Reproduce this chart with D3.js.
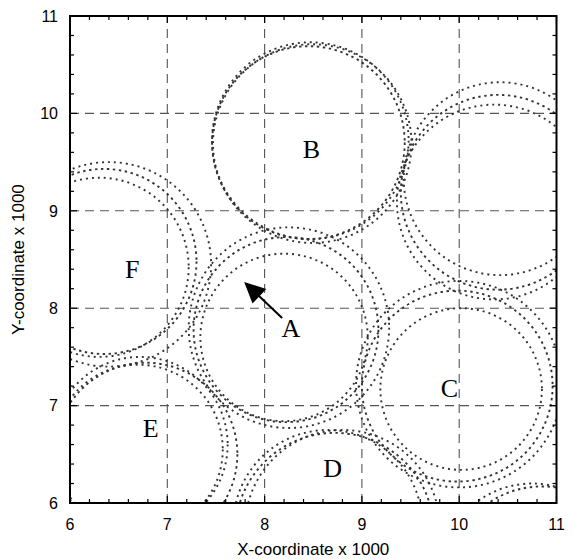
<!DOCTYPE html>
<html><head><meta charset="utf-8">
<script src="https://cdn.jsdelivr.net/npm/d3@7"></script>
<style>body{margin:0;background:#fff}</style>
</head><body><svg id="c" width="574" height="559"></svg>
<script>
// ---- data ----
const xTicks = [6, 7, 8, 9, 10, 11];
const yTicks = [6, 7, 8, 9, 10, 11];
const xTickLabels = ["6", "7", "8", "9", "10", "11"];
const yTickLabels = ["6", "7", "8", "9", "10", "11"];
const gridX = [7, 8, 9, 10];
const gridY = [7, 8, 9, 10];

// circle groups: [centerX, centerY, radius] (x1000 units)
const circlesA = [[8.20, 7.70, 0.86], [8.22, 7.78, 0.95], [8.25, 7.80, 1.03]];
const circlesB = [[8.47, 9.72, 1.01], [8.45, 9.70, 0.99], [8.49, 9.69, 1.02]];
const circlesC = [[10.02, 7.17, 0.83], [9.98, 7.20, 0.98], [10.00, 7.22, 1.06]];
const circlesD = [[8.80, 5.75, 1.00], [8.72, 5.70, 1.02], [8.65, 5.78, 0.97]];
const circlesE = [[6.70, 6.55, 0.87], [6.78, 6.50, 0.94], [6.72, 6.60, 0.90]];
const circlesF = [[6.40, 8.45, 1.05], [6.35, 8.48, 0.95], [6.30, 8.42, 0.92]];
const circlesNE = [[10.42, 9.33, 0.99], [10.40, 9.19, 1.00], [10.36, 9.09, 1.00]];
const circlesSE = [[10.75, 5.25, 0.95], [10.85, 5.20, 0.97]];

const labels = ["A", "B", "C", "D", "E", "F"];
const labelX = [8.27, 8.48, 9.90, 8.70, 6.83, 6.64];
const labelY = [7.70, 9.54, 7.09, 6.27, 6.68, 8.31];
const arrowFrom = [8.18, 7.90];
const arrowTo = [7.79, 8.27];

const xTitle = "X-coordinate x 1000";
const yTitle = "Y-coordinate x 1000";

// ---- drawing ----
const svg = d3.select("#c");
const x = d3.scaleLinear().domain([6, 11]).range([70, 556.5]);
const y = d3.scaleLinear().domain([6, 11]).range([503, 16]);
const X0 = x.range()[0], X1 = x.range()[1], Y0 = y.range()[0], Y1 = y.range()[1];

svg.append("defs").append("clipPath").attr("id", "clip")
  .append("rect").attr("x", X0).attr("y", Y1).attr("width", X1 - X0).attr("height", Y0 - Y1);

// grid
const grid = svg.append("g").attr("stroke", "#555").attr("stroke-width", 1.1).attr("stroke-dasharray", "9 6");
grid.selectAll("line.gx").data(gridX).join("line").attr("class", "gx")
  .attr("x1", d => x(d)).attr("x2", d => x(d)).attr("y1", Y0).attr("y2", Y1);
grid.selectAll("line.gy").data(gridY).join("line").attr("class", "gy")
  .attr("y1", d => y(d)).attr("y2", d => y(d)).attr("x1", X0).attr("x2", X1);

// circles
const allGroups = [circlesA, circlesB, circlesC, circlesD, circlesE, circlesF, circlesNE, circlesSE];
const cg = svg.append("g").attr("clip-path", "url(#clip)");
allGroups.forEach((grp, gi) => {
  cg.append("g").selectAll("ellipse").data(grp).join("ellipse")
    .attr("cx", d => x(d[0])).attr("cy", d => y(d[1]))
    .attr("rx", d => x(d[0] + d[2]) - x(d[0]))
    .attr("ry", d => y(d[1]) - y(d[1] + d[2]))
    .attr("fill", "none").attr("stroke", "#333")
    .attr("stroke-width", 1.9).attr("stroke-dasharray", (d, i) => i % 2 ? "2.4 3.6" : "2 4");
});

// minor ticks (inward) on all 4 sides
const minor = x.ticks(25);
const tk = svg.append("g").attr("stroke", "#000").attr("stroke-width", 1.2);
tk.selectAll("line.b").data(minor).join("line").attr("class", "b")
  .attr("x1", d => x(d)).attr("x2", d => x(d)).attr("y1", Y0).attr("y2", d => Y0 - (xTicks.includes(+d.toFixed(2)) ? 7 : 4));
tk.selectAll("line.t").data(minor).join("line").attr("class", "t")
  .attr("x1", d => x(d)).attr("x2", d => x(d)).attr("y1", Y1).attr("y2", d => Y1 + (xTicks.includes(+d.toFixed(2)) ? 7 : 4));
const minorY = y.ticks(25);
tk.selectAll("line.l").data(minorY).join("line").attr("class", "l")
  .attr("y1", d => y(d)).attr("y2", d => y(d)).attr("x1", X0).attr("x2", d => X0 + (yTicks.includes(+d.toFixed(2)) ? 7 : 4));
tk.selectAll("line.r").data(minorY).join("line").attr("class", "r")
  .attr("y1", d => y(d)).attr("y2", d => y(d)).attr("x1", X1).attr("x2", d => X1 - (yTicks.includes(+d.toFixed(2)) ? 7 : 4));

// frame
svg.append("rect").attr("x", X0).attr("y", Y1).attr("width", X1 - X0).attr("height", Y0 - Y1)
  .attr("fill", "none").attr("stroke", "#000").attr("stroke-width", 2);

// tick labels
const font = "Liberation Sans, Arial, sans-serif";
svg.append("g").selectAll("text").data(xTicks).join("text")
  .attr("x", d => x(d)).attr("y", 530).attr("text-anchor", "middle")
  .attr("font-family", font).attr("font-size", 16).text((d, i) => xTickLabels[i]);
svg.append("g").selectAll("text").data(yTicks).join("text")
  .attr("x", 58).attr("y", d => y(d)).attr("dy", "0.36em").attr("text-anchor", "end")
  .attr("font-family", font).attr("font-size", 16).text((d, i) => yTickLabels[i]);

// axis titles
svg.append("text").attr("x", (X0 + X1) / 2).attr("y", 555).attr("text-anchor", "middle")
  .attr("font-family", font).attr("font-size", 17).text(xTitle);
svg.append("text").attr("transform", `translate(24,${(Y0 + Y1) / 2}) rotate(-90)`).attr("text-anchor", "middle")
  .attr("font-family", font).attr("font-size", 17).text(yTitle);

// letter labels
svg.append("g").selectAll("text").data(labels).join("text")
  .attr("x", (d, i) => x(labelX[i])).attr("y", (d, i) => y(labelY[i]))
  .attr("text-anchor", "middle").attr("font-family", "Liberation Serif, Times New Roman, serif")
  .attr("font-size", 26).text(d => d);

// arrow
const ax0 = x(arrowFrom[0]), ay0 = y(arrowFrom[1]), ax1 = x(arrowTo[0]), ay1 = y(arrowTo[1]);
const ang = Math.atan2(ay1 - ay0, ax1 - ax0);
const headLen = 21, headHalf = 10;
const bx = ax1 - headLen * Math.cos(ang), by = ay1 - headLen * Math.sin(ang);
svg.append("line").attr("x1", ax0).attr("y1", ay0).attr("x2", bx + 2 * Math.cos(ang)).attr("y2", by + 2 * Math.sin(ang))
  .attr("stroke", "#000").attr("stroke-width", 2);
svg.append("path").attr("d", d3.line()([
  [ax1, ay1],
  [bx + headHalf * Math.sin(ang), by - headHalf * Math.cos(ang)],
  [bx - headHalf * Math.sin(ang), by + headHalf * Math.cos(ang)]
]) + "Z").attr("fill", "#000");
</script></body></html>
